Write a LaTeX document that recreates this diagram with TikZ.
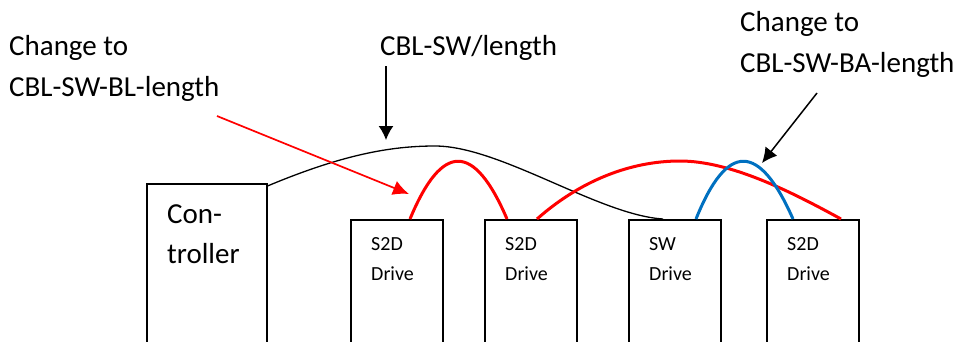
\documentclass[tikz,border=0pt]{standalone}
\usepackage{fontspec}
\setmainfont{Carlito}
\usetikzlibrary{arrows.meta}
\usetikzlibrary{positioning}

\tikzset{
  drivebox/.style={draw, line width=1.5pt, minimum width=92pt, minimum height=140pt, anchor=north west, inner sep=0pt},
  bigtext/.style={font=\fontsize{29}{41}\selectfont, align=left, inner sep=0pt, anchor=base west},
  smalltext/.style={font=\fontsize{20}{30}\selectfont, align=left, inner sep=0pt, anchor=base west},
  cable/.style={line width=3pt},
}

\begin{document}
\begin{tikzpicture}[x=1pt, y=-1pt]
\useasboundingbox (0,0) rectangle (963,341);
\clip (0,0) rectangle (963,341);
\node[drivebox, minimum width=120pt, minimum height=175pt] (ctrl) at (146,183) {};
\node[drivebox] (d1) at (350,219) {};
\node[drivebox] (d2) at (484,219) {};
\node[drivebox] (sw) at (628,219) {};
\node[drivebox] (d4) at (766,219) {};
\node[bigtext, font=\fontsize{29}{40}\selectfont] (ctrltxt) at ([xshift=21pt, yshift=-80pt]ctrl.north west) {Con-\\troller};
\node[smalltext] (d1txt) at ([xshift=21pt, yshift=-61pt]d1.north west) {S2D\\Drive};
\node[smalltext] (d2txt) at ([xshift=21pt, yshift=-61pt]d2.north west) {S2D\\Drive};
\node[smalltext] (swtxt) at ([xshift=21pt, yshift=-61pt]sw.north west) {SW\\Drive};
\node[smalltext] (d4txt) at ([xshift=21pt, yshift=-61pt]d4.north west) {S2D\\Drive};
\node[bigtext] (bllbl) at (9,96) {Change to\\CBL-SW-BL-length};
\node[bigtext] (swlbl) at (380,55) {CBL-SW/length};
\node[bigtext] (balbl) at (740,72) {Change to\\CBL-SW-BA-length};
\coordinate (swtop) at (386,66);
\coordinate (swtip) at (386,140);
\coordinate (bltail) at (217,116);
\coordinate (bltip) at (409,194);
\coordinate (batail) at (817,93);
\coordinate (batip) at (762,163);
\draw[line width=1.3pt] ([yshift=-3pt]ctrl.north east) .. controls +(74,-31) and +(-45,0) .. (435,146) .. controls +(65,0) and +(-64,-4) .. ([xshift=35pt]sw.north west);
\draw[cable, red] ([xshift=60pt]d1.north west) .. controls +(32,-77) and +(-33,-77) .. ([xshift=23pt]d2.north west);
\draw[cable, red] ([xshift=53pt]d2.north west) .. controls +(43,-38) and +(-50,0) .. (680,161) .. controls +(50,0) and +(-51,-28) .. ([xshift=75pt]d4.north west);
\draw[cable, color={rgb,255:red,0;green,112;blue,192}] ([xshift=68pt]sw.north west) .. controls +(31,-77) and +(-34,-77) .. ([xshift=27pt]d4.north west);
\draw[line width=1.5pt, -{Latex[length=14pt, width=15pt]}] (swtop) -- (swtip);
\draw[line width=1.7pt, red, -{Latex[length=16pt, width=15pt]}] (bltail) -- (bltip);
\draw[line width=1.5pt, -{Latex[length=15pt, width=15pt]}] (batail) -- (batip);
\end{tikzpicture}
\end{document}
